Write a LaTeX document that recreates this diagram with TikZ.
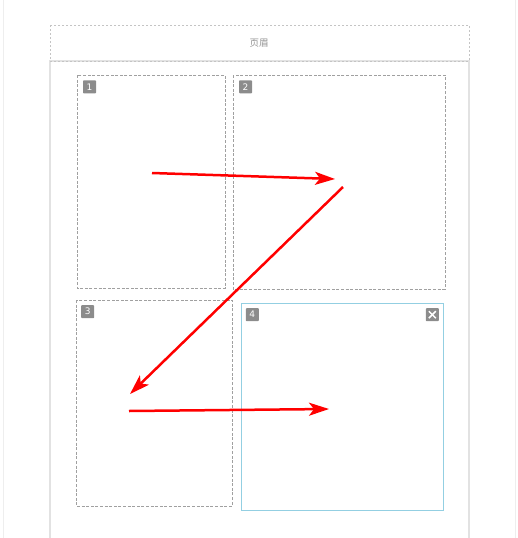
\documentclass[tikz,border=0pt]{standalone}
\usepackage{fontspec}
\newfontfamily\cjk{Noto Sans CJK SC}
\newfontfamily\badgefont{DejaVu Sans}
\usetikzlibrary{arrows.meta}
\definecolor{pagegray}{HTML}{E2E2E2}
\definecolor{dashgray}{HTML}{A0A0A0}
\definecolor{headgray}{HTML}{C4C4C4}
\definecolor{badgegray}{HTML}{8C8C8C}
\definecolor{selblue}{HTML}{93CFE2}
\tikzset{
  cell/.style={draw=dashgray, dash pattern=on 3pt off 1.6pt, line width=0.8pt},
  badge/.style={fill=badgegray, text=white, minimum size=13pt, inner sep=0pt,
    rounded corners=0.8pt, font=\badgefont\fontsize{9}{9}\selectfont},
  zarrow/.style={red, line width=2.5pt, -{Stealth[length=20pt,width=13pt,inset=5pt]}}
}
\begin{document}
\begin{tikzpicture}[x=1pt,y=-1pt]
\useasboundingbox (0,0) rectangle (518,538);

\draw[pagegray!60, line width=1pt] (3,0) -- (3,538);
\draw[pagegray!60, line width=1pt] (515,0) -- (515,538);
\draw[pagegray, line width=1.5pt] (50,538) -- (50,61) -- (469,61) -- (469,538);
\draw[headgray, dash pattern=on 2pt off 2pt, line width=0.8pt] (50,25) rectangle (469,61);
\node[text=gray!85, font=\cjk\fontsize{9.5}{10}\selectfont] (header) at (259,43) {页眉};

\draw[cell] (77,75) rectangle (225,288);
\draw[cell] (233,75) rectangle (445,289);
\draw[cell] (76,300) rectangle (232,506);
\draw[selblue, line width=1pt] (241,303) rectangle (443,510);

\node[badge] (b1) at (89.5,86.8) {1};
\node[badge] (b2) at (245.5,86.8) {2};
\node[badge] (b3) at (87.7,311.7) {3};
\node[badge] (b4) at (252.3,314.7) {4};
\node[badge] (close) at (432.3,314.7) {};
\draw[white, line width=1.5pt] ([shift={(3.2,3.2)}]close.north west) -- ([shift={(-3.2,-3.2)}]close.south east);
\draw[white, line width=1.5pt] ([shift={(3.2,-3.2)}]close.south west) -- ([shift={(-3.2,3.2)}]close.north east);

\coordinate (s1) at (152,173);
\coordinate (t1) at (335,179);
\coordinate (s2) at (343,187);
\coordinate (t2) at (130,394);
\coordinate (s3) at (129,411);
\coordinate (t3) at (329,409);
\draw[zarrow] (s1) -- (t1);
\draw[zarrow] (s2) -- (t2);
\draw[zarrow] (s3) -- (t3);
\end{tikzpicture}
\end{document}
